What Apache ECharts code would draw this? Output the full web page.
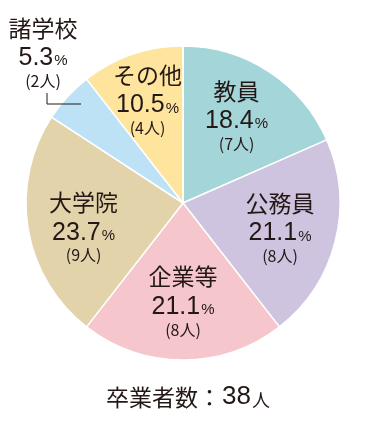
<!DOCTYPE html>
<html><head><meta charset="utf-8">
<script src="https://cdn.jsdelivr.net/npm/echarts@6/dist/echarts.min.js"></script>
<style>html,body{margin:0;padding:0;background:#fff}#c{width:366px;height:439px}</style>
</head><body><div id="c"></div>
<script>
const categories = ['教員', '公務員', '企業等', '大学院', '諸学校', 'その他'];
const counts = [7, 8, 8, 9, 2, 4];
const colors = ['#a4d5d9', '#cfc4df', '#f6c6cd', '#e3d3ab', '#bde2f5', '#fee49c'];
const labelOffsets = [[9, -21], [18, 3], [0, 15], [-19, 9], [-80, -97], [-9, -28]];
const titleLabel = '卒業者数：';
const titleUnit = '人';

const TXT = '#231815';
const total = counts.reduce((a, b) => a + b, 0);
const chart = echarts.init(document.getElementById('c'), null, {renderer: 'canvas'});

const data = categories.map((name, i) => ({
  name: name,
  value: counts[i],
  itemStyle: {color: colors[i]},
  label: {offset: labelOffsets[i]}
}));

chart.setOption({
  animation: false,
  backgroundColor: '#fff',
  title: {
    text: '{a|' + titleLabel + '}{d|' + total + '}{b|' + titleUnit + '}',
    left: 101,
    top: 378,
    textStyle: {
      fontWeight: 'normal',
      rich: {
        a: {fontFamily: 'Noto Sans CJK JP', fontSize: 23, fontWeight: 'normal', color: TXT, lineHeight: 28},
        d: {fontFamily: 'Liberation Sans', fontSize: 26, fontWeight: 'normal', color: TXT, lineHeight: 28, padding: [0, 1, 0, 1]},
        b: {fontFamily: 'Noto Sans CJK JP', fontSize: 18, fontWeight: 'normal', color: TXT, lineHeight: 28, verticalAlign: 'bottom', padding: [0, 0, 2, 0]}
      }
    }
  },
  graphic: [{
    type: 'polyline',
    shape: {points: [[47, 93], [47, 104], [81, 104]]},
    style: {stroke: TXT, lineWidth: 1, fill: null},
    z: 10
  }],
  series: [{
    type: 'pie',
    center: [183, 203],
    radius: [0, 157],
    startAngle: 90,
    clockwise: true,
    emphasis: {disabled: true},
    itemStyle: {borderColor: '#fff', borderWidth: 1.5},
    label: {
      show: true,
      position: 'inside',
      color: TXT,
      align: 'center',
      formatter: function (p) {
        const pct = (p.value / total * 100).toFixed(1);
        return '{n|' + p.name + '}\n{p|' + pct + '}{u|%}\n{q|(' + p.value + '人)}';
      },
      rich: {
        n: {fontFamily: 'Noto Sans CJK JP', fontSize: 23, color: TXT, lineHeight: 34, align: 'center'},
        p: {fontFamily: 'Liberation Sans', fontSize: 25, color: TXT, lineHeight: 26, verticalAlign: 'bottom'},
        u: {fontFamily: 'Liberation Sans', fontSize: 15, color: TXT, lineHeight: 26, verticalAlign: 'bottom', padding: [0, 0, 2, 1]},
        q: {fontFamily: 'Noto Sans CJK JP', fontSize: 16, color: TXT, lineHeight: 20, align: 'center'}
      }
    },
    labelLine: {show: false},
    data: data
  }]
});
</script></body></html>
